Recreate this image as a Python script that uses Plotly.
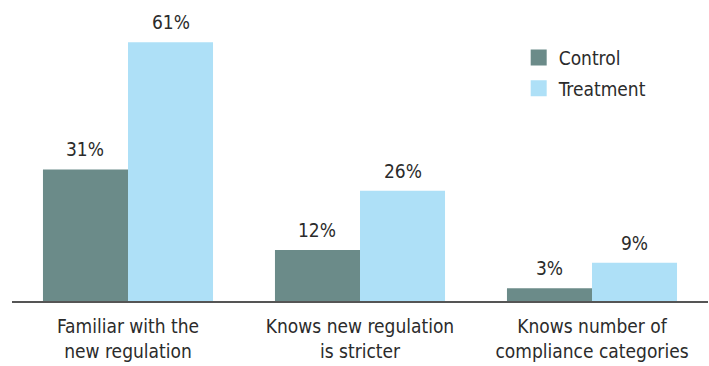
import plotly.graph_objects as go

categories = ["Familiar with the<br>new regulation",
              "Knows new regulation<br>is stricter",
              "Knows number of<br>compliance categories"]
control = [31, 12, 3]
treatment = [61, 26, 9]

FONT = "DejaVu Sans Condensed, Roboto, sans-serif"
TXT = "#2b2b2b"
C_CONTROL = "#6b8b89"
C_TREAT = "#aee0f7"

fig = go.Figure()
fig.add_trace(go.Bar(name="Control", x=categories, y=control,
                     marker=dict(color=C_CONTROL, line=dict(width=0)),
                     offsetgroup="c", showlegend=False))
fig.add_trace(go.Bar(name="Treatment", x=categories, y=treatment,
                     marker=dict(color=C_TREAT, line=dict(width=0)),
                     offsetgroup="t", showlegend=False))

# legend entries with larger square swatches
for name, col in (("Control", C_CONTROL), ("Treatment", C_TREAT)):
    fig.add_trace(go.Scatter(x=[None], y=[None], mode="markers", name=name,
                             legendgroup=name,
                             marker=dict(symbol="square", size=16, color=col,
                                         line=dict(width=0))))

# value labels above each bar
for i, cat in enumerate(categories):
    for vals, shift in ((control, -0.1833), (treatment, 0.1833)):
        fig.add_annotation(x=i + shift, y=vals[i], xref="x", yref="y",
                           text=f"{vals[i]}%", showarrow=False,
                           yanchor="bottom", yshift=7,
                           font=dict(family=FONT, size=19, color=TXT))

fig.update_layout(
    width=709, height=366,
    margin=dict(l=12, r=1, t=4, b=65),
    paper_bgcolor="white", plot_bgcolor="white",
    barmode="group", bargap=0.267, bargroupgap=0,
    font=dict(family=FONT, size=19, color=TXT),
    showlegend=True,
    legend=dict(x=0.728, y=0.883, xanchor="left", yanchor="top",
                bgcolor="rgba(0,0,0,0)", tracegroupgap=3,
                font=dict(family=FONT, size=19, color=TXT)),
)
fig.update_xaxes(showline=True, linecolor="#555555", linewidth=2,
                 ticks="", showgrid=False, zeroline=False,
                 ticklabelstandoff=7,
                 tickfont=dict(family=FONT, size=19, color=TXT))
fig.update_yaxes(range=[0, 70], visible=False, showgrid=False, zeroline=False)

fig.write_html("out.html")
